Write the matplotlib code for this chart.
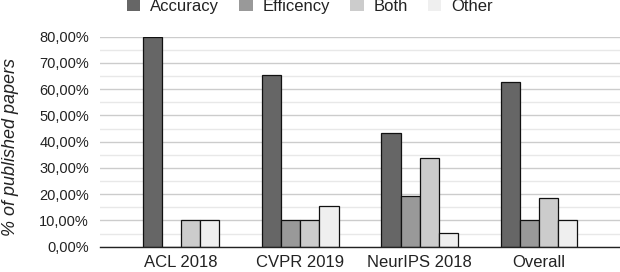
import matplotlib
matplotlib.use("Agg")
import matplotlib.pyplot as plt
import numpy as np
from matplotlib.ticker import MultipleLocator, FuncFormatter

categories = ["ACL 2018", "CVPR 2019", "NeurIPS 2018", "Overall"]
series_names = ["Accuracy", "Efficency", "Both", "Other"]
accuracy = [80.0, 65.4, 43.2, 62.7]
efficiency = [0.0, 10.0, 19.3, 10.0]
both = [10.0, 10.0, 33.8, 18.4]
other = [10.0, 15.4, 5.1, 10.0]
colors = ["#666666", "#999999", "#cccccc", "#efefef"]

plt.rcParams['font.family'] = ['Liberation Sans', 'DejaVu Sans']

fig = plt.figure(figsize=(6.2, 2.72), dpi=100)
ax = fig.add_axes([100/620, 1-246.7/272, 520/620, (246.7-36.7)/272])

x = np.arange(len(categories))
w = 0.16
data = [accuracy, efficiency, both, other]
for i, (vals, c, name) in enumerate(zip(data, colors, series_names)):
    ax.bar(x + (i - 1.5) * w, vals, width=w, color=c, edgecolor="#111111",
           linewidth=0.9, label=name, zorder=3)

ax.set_xlim(-0.68, 3.68)
ax.set_ylim(0, 80)
ax.yaxis.set_major_locator(MultipleLocator(10))
ax.yaxis.set_minor_locator(MultipleLocator(5))
ax.yaxis.set_major_formatter(FuncFormatter(lambda v, p: f"{v:.2f}".replace(".", ",") + "%"))
ax.grid(axis="y", which="major", color="#cccccc", linewidth=1, zorder=0)
ax.grid(axis="y", which="minor", color="#e8e8e8", linewidth=1, zorder=0)
ax.set_axisbelow(True)
for s in ["top", "right", "left"]:
    ax.spines[s].set_visible(False)
ax.spines["bottom"].set_color("#222222")
ax.spines["bottom"].set_linewidth(1)
ax.spines["bottom"].set_zorder(4)
ax.tick_params(axis="y", which="both", length=0, labelsize=10.5, colors="#222222", pad=8)
ax.tick_params(axis="x", length=0, labelsize=12, colors="#222222", pad=6)
ax.set_xticks(x)
ax.set_xticklabels(categories)
fig.text(11/620, 1-147.5/272, "% of published papers", rotation=90, ha="center", va="center",
         fontsize=13, style="italic", color="#222222")

fig.legend(loc="upper center", bbox_to_anchor=(0.5, 1.06), ncol=4, frameon=False,
           fontsize=12, handlelength=0.8, handleheight=0.8, handletextpad=0.6,
           columnspacing=1.2, labelcolor="#222222")
leg = fig.legends[0]
for h in leg.legend_handles:
    h.set_edgecolor("none")

fig.savefig("out.png", dpi=100)
